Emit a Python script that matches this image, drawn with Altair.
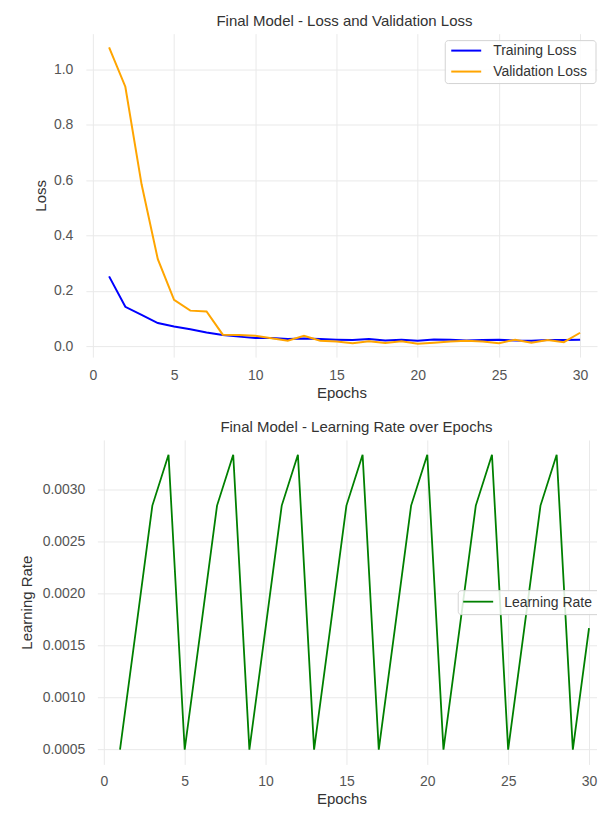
import altair as alt
import pandas as pd

# ---------------- data ----------------
epochs = [1, 2, 3, 4, 5, 6, 7, 8, 9, 10,
          11, 12, 13, 14, 15, 16, 17, 18, 19, 20,
          21, 22, 23, 24, 25, 26, 27, 28, 29, 30]

train_loss = [0.252, 0.142, 0.113, 0.083, 0.071, 0.061, 0.049, 0.040, 0.034, 0.029,
              0.029, 0.025, 0.027, 0.025, 0.023, 0.022, 0.025, 0.020, 0.023, 0.019,
              0.024, 0.023, 0.020, 0.022, 0.023, 0.020, 0.019, 0.022, 0.022, 0.023]

val_loss = [1.080, 0.938, 0.585, 0.314, 0.167, 0.128, 0.125, 0.041, 0.040, 0.037,
            0.028, 0.019, 0.037, 0.019, 0.016, 0.010, 0.017, 0.011, 0.017, 0.008,
            0.012, 0.016, 0.019, 0.016, 0.010, 0.023, 0.012, 0.022, 0.014, 0.048]

learning_rate = [0.0005, 0.00167, 0.00285, 0.00334, 0.0005, 0.00167, 0.00285, 0.00334,
                 0.0005, 0.00167, 0.00285, 0.00334, 0.0005, 0.00167, 0.00285, 0.00334,
                 0.0005, 0.00167, 0.00285, 0.00334, 0.0005, 0.00167, 0.00285, 0.00334,
                 0.0005, 0.00167, 0.00285, 0.00334, 0.0005, 0.00167]

series_names = ["Training Loss", "Validation Loss"]
series_colors = ["blue", "orange"]
lr_name = "Learning Rate"

x_ticks = [0, 5, 10, 15, 20, 25, 30]
loss_ticks = [0.0, 0.2, 0.4, 0.6, 0.8, 1.0]
lr_ticks = [0.0005, 0.0010, 0.0015, 0.0020, 0.0025, 0.0030]

FONT = "Liberation Sans"
GRID = "#e9e9e9"

# ---------------- tables ----------------
loss_df = pd.DataFrame({
    "Epoch": epochs + epochs,
    "Loss": train_loss + val_loss,
    "Series": [series_names[0]] * len(epochs) + [series_names[1]] * len(epochs),
})
lr_df = pd.DataFrame({"Epoch": epochs, "LR": learning_rate})
lr_grid_df = pd.DataFrame({"LR": lr_ticks})
train_key = pd.DataFrame({"Series": [series_names[0]]})
val_key = pd.DataFrame({"Series": [series_names[1]]})
lr_key = pd.DataFrame({"label": [lr_name]})

color_enc = alt.Color("Series:N",
                      scale=alt.Scale(domain=series_names, range=series_colors),
                      legend=None)

# ---------------- top panel ----------------
top_lines = alt.Chart(loss_df).mark_line(strokeWidth=2, clip=True).encode(
    x=alt.X("Epoch:Q",
            scale=alt.Scale(domain=[-0.43, 31.04], nice=False, zero=False),
            axis=alt.Axis(values=x_ticks, format="d", title="Epochs",
                          labelPadding=11, titlePadding=3)),
    y=alt.Y("Loss:Q",
            scale=alt.Scale(domain=[-0.04, 1.13], nice=False, zero=False),
            axis=alt.Axis(values=loss_ticks, format=".1f", title="Loss",
                          labelPadding=13, titlePadding=5)),
    color=color_enc,
)

top_box = alt.Chart(train_key).mark_rect(
    fill="white", fillOpacity=0.85, stroke="#d3d3d3", strokeWidth=1, cornerRadius=3
).encode(x=alt.value(360), x2=alt.value(511), y=alt.value(7), y2=alt.value(50))

train_rule = alt.Chart(train_key).mark_rule(strokeWidth=2).encode(
    x=alt.value(366), x2=alt.value(396), y=alt.value(17), color=color_enc)
val_rule = alt.Chart(val_key).mark_rule(strokeWidth=2).encode(
    x=alt.value(366), x2=alt.value(396), y=alt.value(38), color=color_enc)

train_text = alt.Chart(train_key).mark_text(
    align="left", baseline="middle", font=FONT, fontSize=14, color="#333333"
).encode(x=alt.value(408), y=alt.value(17), text="Series:N")
val_text = alt.Chart(val_key).mark_text(
    align="left", baseline="middle", font=FONT, fontSize=14, color="#333333"
).encode(x=alt.value(408), y=alt.value(38), text="Series:N")

top = alt.layer(top_lines, top_box, train_rule, val_rule, train_text, val_text).properties(
    width=512, height=324,
    title=alt.TitleParams("Final Model - Loss and Validation Loss", offset=5, dx=3),
)

# ---------------- bottom panel ----------------
lr_x = alt.X("Epoch:Q",
             scale=alt.Scale(domain=[-1.111, 30.494], nice=False, zero=False),
             axis=alt.Axis(values=x_ticks, format="d", title="Epochs",
                           labelPadding=10, titlePadding=3))
lr_y = alt.Y("LR:Q",
             scale=alt.Scale(domain=[0.000358, 0.003482], nice=False, zero=False),
             axis=alt.Axis(values=lr_ticks, format=".4f", title="Learning Rate",
                           grid=False, labelPadding=1, titlePadding=8))

# horizontal grid lines at the y tick values (start 12 px inside the panel)
lr_grid = alt.Chart(lr_grid_df).mark_rule(color=GRID, strokeWidth=1).encode(
    y=lr_y, x=alt.value(12), x2=alt.value(512)
)

lr_line = alt.Chart(lr_df).mark_line(strokeWidth=1.8, color="green", clip=True).encode(
    x=lr_x, y=lr_y,
)

leg_box = alt.Chart(lr_key).mark_rect(
    fill="white", fillOpacity=0.85, stroke="#d3d3d3", strokeWidth=1,
    cornerRadius=3, clip=True
).encode(x=alt.value(373), x2=alt.value(515), y=alt.value(151), y2=alt.value(175))

leg_rule = alt.Chart(lr_key).mark_rule(color="green", strokeWidth=1.8, clip=True).encode(
    x=alt.value(378), x2=alt.value(408), y=alt.value(162)
)

leg_text = alt.Chart(lr_key).mark_text(
    align="left", baseline="middle", font=FONT, fontSize=14, color="#333333", clip=True
).encode(x=alt.value(419), y=alt.value(163), text="label:N")

bottom = alt.layer(lr_grid, lr_line, leg_box, leg_rule, leg_text).properties(
    width=512, height=325,
    title=alt.TitleParams("Final Model - Learning Rate over Epochs", offset=5, dx=15),
)

# ---------------- compose ----------------
chart = alt.vconcat(top, bottom, spacing=20).properties(
    padding={"left": 11, "top": 5, "right": 0, "bottom": 0},
    background="white",
).configure_view(
    stroke=None
).configure_axis(
    grid=True, gridColor=GRID, gridWidth=1,
    domain=False, ticks=False, tickSize=0,
    labelFont=FONT, labelFontSize=14, labelColor="#555555",
    titleFont=FONT, titleFontSize=15, titleColor="#333333", titleFontWeight="normal",
).configure_title(
    font=FONT, fontSize=15, fontWeight="normal", color="#333333",
    anchor="middle", frame="group",
)

chart.save("out.html", embed_options={"renderer": "svg", "actions": False})
